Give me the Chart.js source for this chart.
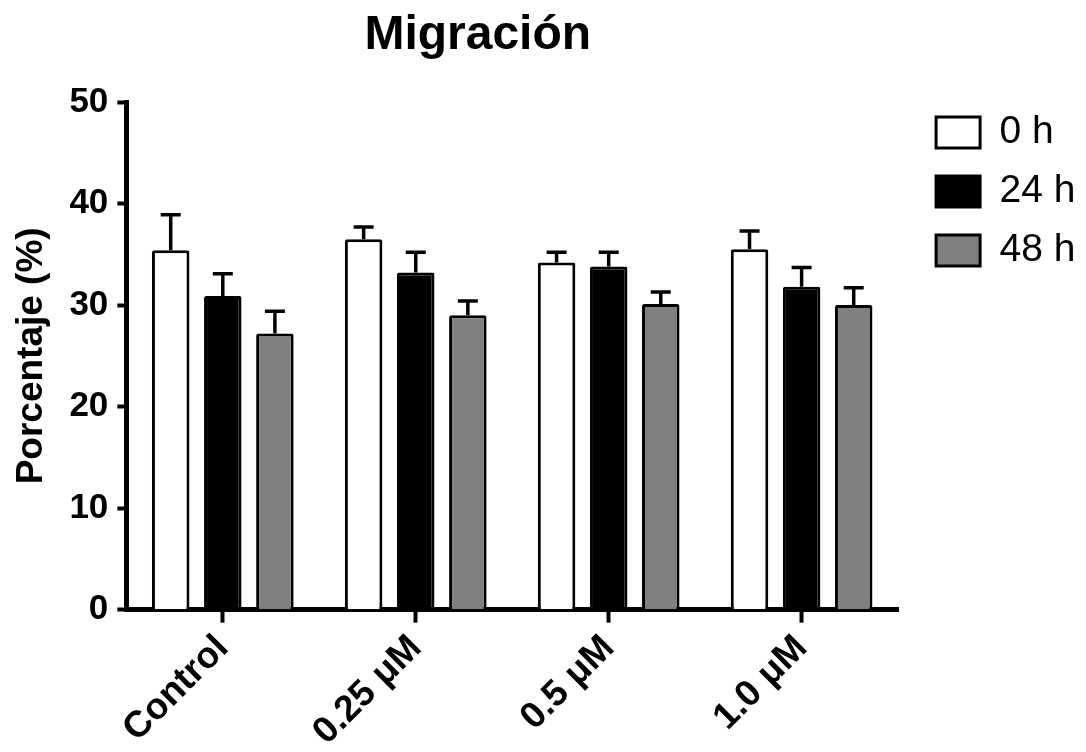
<!DOCTYPE html>
<html>
<head>
<meta charset="utf-8">
<script src="https://cdn.jsdelivr.net/npm/chart.js@4"></script>
<style>
  html, body { margin: 0; padding: 0; background: #fff; }
  #contenedor { width: 1086px; height: 752px; }
</style>
</head>
<body>
<div id="contenedor"><canvas id="grafico-migracion"></canvas></div>
<script>
const CATEGORIAS = ['Control', '0.25 μM', '0.5 μM', '1.0 μM'];
const SERIES = ['0 h', '24 h', '48 h'];
const VALORES_0H = [35.4, 36.5, 34.2, 35.5];
const VALORES_24H = [30.9, 33.2, 33.8, 31.8];
const VALORES_48H = [27.2, 29.0, 30.1, 30.0];
const ERROR_0H = [3.5, 1.2, 1.0, 1.8];
const ERROR_24H = [2.2, 2.0, 1.4, 1.9];
const ERROR_48H = [2.2, 1.4, 1.2, 1.7];
const Y_TICKS = [0, 10, 20, 30, 40, 50];

const FUENTE = "Arial, 'Liberation Sans', Helvetica, sans-serif";
Chart.defaults.font.family = FUENTE;
Chart.defaults.color = '#000';

// barras de error (solo hacia arriba, como en GraphPad)
const barrasError = {
    id: 'barrasError',
    afterDatasetsDraw(chart) {
        const { ctx } = chart;
        const y = chart.scales.y;
        ctx.save();
        ctx.strokeStyle = '#000';
        ctx.lineWidth = 3.5;
        chart.data.datasets.forEach((ds, i) => {
            chart.getDatasetMeta(i).data.forEach((bar, j) => {
                const tope = y.getPixelForValue(ds.data[j] + ds.errores[j]);
                ctx.beginPath();
                ctx.moveTo(bar.x, bar.y);
                ctx.lineTo(bar.x, tope);
                ctx.moveTo(bar.x - 10, tope);
                ctx.lineTo(bar.x + 10, tope);
                ctx.stroke();
            });
        });
        ctx.restore();
    }
};

// leyenda algo separada del eje x y titulo corrido a la izquierda
function desplazar(caja, dx, dy) {
    caja.left += dx;
    caja.right += dx;
    caja.top += dy;
    caja.bottom += dy;
}

const ajustarCajas = {
    id: 'ajustarCajas',
    afterLayout(chart) {
        desplazar(chart.legend, 18, -9);
        desplazar(chart.titleBlock, -56, 0);
    }
};

const datasetBase = { borderColor: '#000', borderWidth: 3, borderRadius: 2 };

new Chart(document.getElementById('grafico-migracion').getContext('2d'), {
    type: 'bar',
    data: {
        labels: CATEGORIAS,
        datasets: [
            { ...datasetBase, label: SERIES[0], data: VALORES_0H, errores: ERROR_0H, backgroundColor: '#ffffff' },
            { ...datasetBase, label: SERIES[1], data: VALORES_24H, errores: ERROR_24H, backgroundColor: '#000000' },
            { ...datasetBase, label: SERIES[2], data: VALORES_48H, errores: ERROR_48H, backgroundColor: '#808080' }
        ]
    },
    options: {
        responsive: true,
        maintainAspectRatio: false,
        animation: false,
        categoryPercentage: 0.81,
        barPercentage: 0.72,
        layout: { padding: { left: 0, right: 18.5, top: 0, bottom: -6 } },
        plugins: {
            title: {
                display: true,
                text: 'Migración',
                font: { size: 48, weight: 'bold' },
                color: '#000',
                padding: { top: 7, bottom: 37.5 }
            },
            legend: {
                position: 'right',
                align: 'start',
                fullSize: false,
                labels: {
                    boxWidth: 44,
                    boxHeight: 31,
                    padding: 20,
                    color: '#000',
                    font: { size: 39 }
                }
            },
            tooltip: { enabled: false }
        },
        scales: {
            x: {
                offset: true,
                grid: {
                    offset: false,
                    drawOnChartArea: false,
                    tickLength: 13,
                    tickWidth: 4,
                    tickColor: '#000'
                },
                border: { display: true, color: '#000', width: 5 },
                ticks: {
                    minRotation: 45,
                    maxRotation: 45,
                    padding: 4,
                    color: '#000',
                    font: { size: 37, weight: 'bold' }
                }
            },
            y: {
                min: 0,
                max: 50,
                afterBuildTicks: scale => {
                    scale.ticks = Y_TICKS.map(v => ({ value: v }));
                },
                grid: {
                    drawOnChartArea: false,
                    tickLength: 9,
                    tickWidth: 4,
                    tickColor: '#000'
                },
                border: { display: true, color: '#000', width: 5 },
                ticks: {
                    padding: 9,
                    color: '#000',
                    font: { size: 35, weight: 'bold' }
                },
                title: {
                    display: true,
                    text: 'Porcentaje (%)',
                    color: '#000',
                    font: { size: 37, weight: 'bold' },
                    padding: { top: 10, bottom: 6 }
                }
            }
        }
    },
    plugins: [barrasError, ajustarCajas]
});
</script>
</body>
</html>
